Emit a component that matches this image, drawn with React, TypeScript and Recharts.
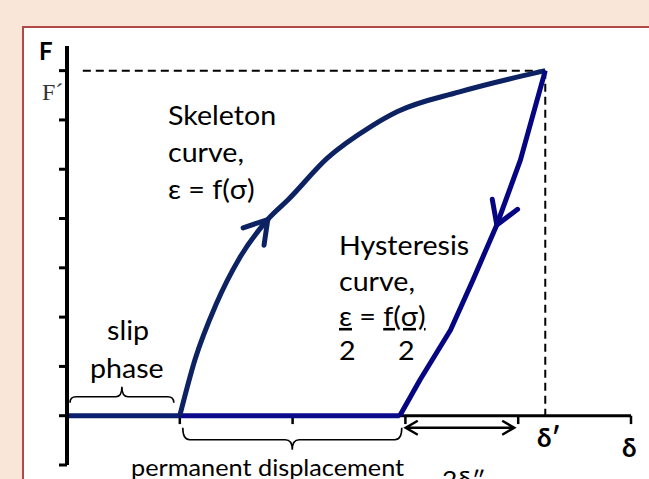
import React from 'react';
import { LineChart, Line, XAxis, YAxis, ReferenceLine } from 'recharts';

// displacement δ (x) and force F (y), in axis tick units
const slipD = [0, 1];
const slipF = [0, 0];
const skeletonD = [1.0, 1.135, 1.32, 1.53, 1.78, 1.96, 2.31, 2.69, 2.93, 3.48, 4.24];
const skeletonF = [0, 1.14, 2.25, 3.2, 3.98, 4.38, 5.23, 5.86, 6.17, 6.57, 7.0];
const hysteresisD = [4.24, 4.02, 3.81, 3.6, 3.4, 3.13, 2.95];
const hysteresisF = [7.0, 5.19, 3.87, 2.76, 1.74, 0.73, 0];
const permanentD = [2.95, 1.0];
const permanentF = [0, 0];
const axisD = [0, 5];
const axisF = [0, 0];

const yTicks = [-1, 0, 1, 2, 3, 4, 5, 6, 7];
const xTicks = [1, 2, 3, 4, 5];

// arrowheads sit on these points of each curve
const skeletonArrowAt = 4;
const hysteresisArrowAt = 2;

const toRows = (d: number[], f: number[]) => d.map((v, i) => ({ d: v, f: f[i] }));

const slip = toRows(slipD, slipF);
const skeleton = toRows(skeletonD, skeletonF);
const hysteresis = toRows(hysteresisD, hysteresisF);
const permanent = toRows(permanentD, permanentF);
const axisRow = toRows(axisD, axisF);

const peakD = skeletonD[skeletonD.length - 1];
const peakF = skeletonF[skeletonF.length - 1];
const residualD = hysteresisD[hysteresisD.length - 1];

const SANS = "Lato, 'Noto Sans', sans-serif";
const SKELETON = '#0C2262';
const HYST = '#060683';

const arrowDot = (at: number, color: string, fallback: number) => (props: any) => {
  const { cx, cy, index, points } = props;
  if (index !== at) return <g key={`n-${index}`} />;
  let ang = fallback;
  if (points && points[at - 1] && points[at + 1]) {
    const p = points[at - 1];
    const q = points[at + 1];
    ang = Math.atan2(q.y - p.y, q.x - p.x);
  }
  const back = ang + Math.PI;
  const len = 26;
  const spread = 0.55;
  const a1 = [cx + len * Math.cos(back - spread), cy + len * Math.sin(back - spread)];
  const a2 = [cx + len * Math.cos(back + spread), cy + len * Math.sin(back + spread)];
  return (
    <path
      key={`a-${index}`}
      d={`M${a1[0]},${a1[1]} L${cx},${cy} L${a2[0]},${a2[1]}`}
      fill="none"
      stroke={color}
      strokeWidth={5}
      strokeLinecap="round"
      strokeLinejoin="round"
    />
  );
};

// curly brace opening downward, tip pointing up
const BraceUp = (props: any) => {
  const { x1, x2, y1 } = props;
  const a = x1 + 3;
  const b = x2 - 6;
  const c = (a + b) / 2;
  const y0 = y1 - 13;
  const ym = y1 - 19;
  const tip = y1 - 29;
  const r = 6;
  return (
    <path
      d={`M${a},${y0} Q${a},${ym} ${a + r},${ym} L${c - r},${ym} Q${c},${ym} ${c},${tip} Q${c},${ym} ${c + r},${ym} L${b - r},${ym} Q${b},${ym} ${b},${y0}`}
      fill="none"
      stroke="#000"
      strokeWidth={1.6}
    />
  );
};

// curly brace opening upward, tip pointing down
const BraceDown = (props: any) => {
  const { x1, x2, y1 } = props;
  const a = x1 + 3;
  const b = x2 + 2;
  const c = (a + b) / 2;
  const y0 = y1 + 12;
  const ym = y1 + 24;
  const tip = y1 + 34;
  const r = 7;
  return (
    <path
      d={`M${a},${y0} Q${a},${ym} ${a + r},${ym} L${c - r},${ym} Q${c},${ym} ${c},${tip} Q${c},${ym} ${c + r},${ym} L${b - r},${ym} Q${b},${ym} ${b},${y0}`}
      fill="none"
      stroke="#000"
      strokeWidth={1.6}
    />
  );
};

const DoubleArrow = (props: any) => {
  const { x1, x2, y1 } = props;
  const a = x1 + 6;
  const b = x2 - 4;
  const y = y1 + 12;
  return (
    <path
      d={`M${a + 12},${y - 7} L${a},${y} L${a + 12},${y + 7} M${a},${y} L${b},${y} M${b - 12},${y - 7} L${b},${y} L${b - 12},${y + 7}`}
      fill="none"
      stroke="#000"
      strokeWidth={2.5}
      strokeLinejoin="miter"
    />
  );
};

const T = ({ x, y, size = 26, weight = 400, family = SANS, fill = '#000', sx = 1.1, children }: any) => (
  <text
    transform={`translate(${x},${y}) scale(${sx},1)`}
    fontSize={size}
    fontFamily={family}
    fontWeight={weight}
    fill={fill}
  >
    {children}
  </text>
);

const U = ({ children }: any) => <tspan style={{ textDecoration: 'underline' }}>{children}</tspan>;

export default function App() {
  return (
    <div
      style={{
        position: 'absolute',
        left: 0,
        top: 0,
        width: 649,
        height: 479,
        background: '#FAE6D8',
        overflow: 'hidden',
      }}
    >
      <div
        style={{
          position: 'absolute',
          left: 22,
          top: 26,
          width: 700,
          height: 500,
          background: '#fff',
          border: '2px solid #B04A44',
        }}
      />
      <div style={{ position: 'absolute', left: 0, top: 0 }}>
        <LineChart width={649} height={479} margin={{ top: 46, right: 18, bottom: 14, left: 47 }}>
          <XAxis type="number" dataKey="d" domain={[0, 5]} hide allowDataOverflow />
          <YAxis
            type="number"
            dataKey="f"
            domain={[-1, 7.5]}
            ticks={yTicks}
            width={20}
            allowDataOverflow
            axisLine={{ stroke: '#000', strokeWidth: 4 }}
            tickLine={{ stroke: '#000', strokeWidth: 3 }}
            tickSize={8}
            tickFormatter={() => ''}
          />
          {xTicks.map((t) => (
            <ReferenceLine
              key={t}
              segment={[{ x: t, y: 0 }, { x: t, y: -0.17 }]}
              stroke="#000"
              strokeWidth={2.5}
            />
          ))}
          <ReferenceLine
            segment={[{ x: 0.14, y: peakF }, { x: peakD, y: peakF }]}
            stroke="#000"
            strokeWidth={2}
            strokeDasharray="8 5"
          />
          <ReferenceLine
            segment={[{ x: peakD, y: peakF }, { x: peakD, y: 0 }]}
            stroke="#000"
            strokeWidth={2}
            strokeDasharray="8 5"
          />
          <ReferenceLine segment={[{ x: slipD[0], y: 0 }, { x: slipD[1], y: 0 }]} shape={BraceUp} />
          <ReferenceLine segment={[{ x: permanentD[1], y: 0 }, { x: residualD, y: 0 }]} shape={BraceDown} />
          <ReferenceLine segment={[{ x: residualD, y: 0 }, { x: xTicks[3], y: 0 }]} shape={DoubleArrow} />
          <Line data={axisRow} dataKey="f" stroke="#000" strokeWidth={3} dot={false} isAnimationActive={false} />
          <Line data={slip} dataKey="f" stroke="#0A1F6E" strokeWidth={5} dot={false} isAnimationActive={false} />
          <Line data={permanent} dataKey="f" stroke="#0A0A8A" strokeWidth={5} dot={false} isAnimationActive={false} />
          <Line
            data={skeleton}
            type="monotone"
            dataKey="f"
            stroke={SKELETON}
            strokeWidth={5}
            strokeLinejoin="round"
            dot={arrowDot(skeletonArrowAt, SKELETON, -0.9)}
            isAnimationActive={false}
          />
          <Line
            data={hysteresis}
            dataKey="f"
            stroke={HYST}
            strokeWidth={5}
            strokeLinejoin="round"
            dot={arrowDot(hysteresisArrowAt, HYST, 1.87)}
            isAnimationActive={false}
          />
        </LineChart>
      </div>
      <svg
        width={649}
        height={479}
        style={{ position: 'absolute', left: 0, top: 0, pointerEvents: 'none' }}
      >
        <T x={39} y={60} size={24} weight={700} sx={1}>F</T>
        <T x={42} y={100} size={24} family="'Liberation Serif', serif" fill="#333" sx={1}>F´</T>
        <T x={168} y={125}>Skeleton</T>
        <T x={168} y={162}>curve,</T>
        <T x={168} y={199}>ε = f(σ)</T>
        <T x={339} y={255}>Hysteresis</T>
        <T x={339} y={291}>curve,</T>
        <T x={339} y={326}>
          <U>ε</U> = <U>f(σ)</U>
        </T>
        <T x={339} y={360}>2</T>
        <T x={398} y={360}>2</T>
        <T x={107} y={340}>slip</T>
        <T x={90} y={378}>phase</T>
        <T x={131} y={476} size={23}>permanent displacement</T>
        <T x={442} y={488} size={24}>2δ″</T>
        <T x={537} y={447} size={26} weight={700} sx={1}>δ′</T>
        <T x={622} y={457} size={26} weight={700} sx={1}>δ</T>
      </svg>
    </div>
  );
}
